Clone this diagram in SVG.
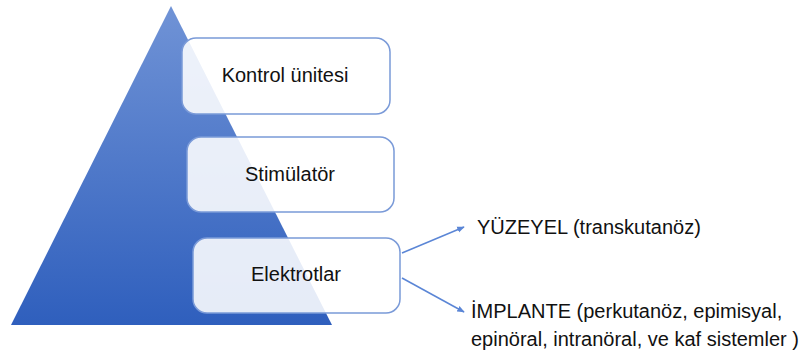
<svg xmlns="http://www.w3.org/2000/svg" width="810" height="356" viewBox="0 0 810 356">
<defs>
<linearGradient id="tri" x1="0" y1="0" x2="0" y2="1">
<stop offset="0" stop-color="#7093d6"/>
<stop offset="1" stop-color="#2f5fbd"/>
</linearGradient>
<marker id="ah" viewBox="0 0 10 10" refX="9" refY="5" markerWidth="5" markerHeight="5" orient="auto">
<path d="M0,1 L10,5 L0,9 z" fill="#5b86d6"/>
</marker>
</defs>
<style>
.box{fill:#ffffff;fill-opacity:0.88;stroke:#7a9ad8;stroke-width:1.5}
.lbl{font-family:"Liberation Sans",Arial,sans-serif;font-size:20px;fill:#111}
.con{stroke:#5b86d6;stroke-width:1.5;fill:none;marker-end:url(#ah)}
</style>
<g id="pyramid"><polygon points="171,6 332,325 11,325" fill="url(#tri)"/></g>
<g id="kontrol"><rect class="box" x="182" y="38" width="208" height="76" rx="14"/><text class="lbl" x="285" y="82" text-anchor="middle">Kontrol ünitesi</text></g>
<g id="stimulator"><rect class="box" x="187" y="137" width="207" height="75" rx="14"/><text class="lbl" x="290" y="181" text-anchor="middle">Stimülatör</text></g>
<g id="elektrotlar"><rect class="box" x="193" y="238" width="207" height="75" rx="14"/><text class="lbl" x="296" y="281" text-anchor="middle">Elektrotlar</text></g>
<g id="connectors">
<line class="con" x1="402" y1="253" x2="464" y2="227"/>
<line class="con" x1="402" y1="278" x2="464" y2="312"/>
</g>
<g id="yuzeyel"><text class="lbl" x="477" y="234">YÜZEYEL (transkutanöz)</text></g>
<g id="implante"><text class="lbl" x="471" y="318">İMPLANTE (perkutanöz, epimisyal,</text><text class="lbl" x="471" y="346">epinöral, intranöral, ve kaf sistemler )</text></g>
</svg>
